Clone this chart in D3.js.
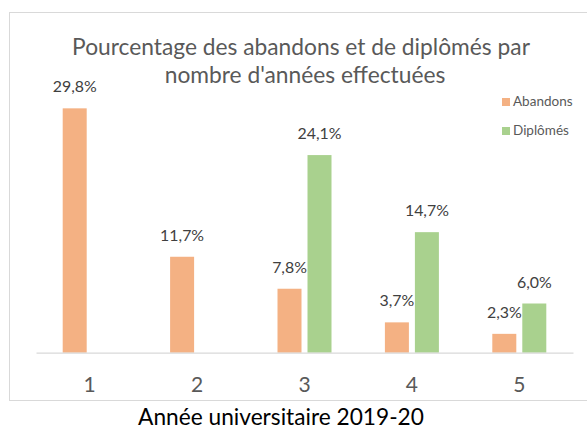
<!DOCTYPE html>
<html>
<head>
<meta charset="utf-8">
<script src="https://cdn.jsdelivr.net/npm/d3@7"></script>
<style>
  body { margin: 0; background: #fff; }
  text { font-family: Lato, "Open Sans", sans-serif; }
</style>
</head>
<body>
<div id="chart"></div>
<script>
// donnees
const annees = ["1", "2", "3", "4", "5"];
const series = ["Abandons", "Diplômés"];
const abandons = [29.8, 11.7, 7.8, 3.7, 2.3];
const diplomes = [null, null, 24.1, 14.7, 6.0];
const titre = ["Pourcentage des abandons et de diplômés par", "nombre d'années effectuées"];
const sousTitre = "Année universitaire 2019-20";

const couleurs = { "Abandons": "#F4B183", "Diplômés": "#A9D18E" };

// ajuste la taille de police pour qu'un texte fasse une largeur donnee
function fitSize(sel, largeur) {
    let base = 20;
    sel.style("font-size", base + "px");
    let w = sel.node().getComputedTextLength();
    let taille = base * largeur / w;
    sel.style("font-size", taille + "px");
    return taille;
}

function CreateChart()
{
    let svg = d3.select("#chart").append("svg")
        .attr("width", 587)
        .attr("height", 430);

    svg.append("rect")
        .attr("width", 587).attr("height", 430)
        .attr("fill", "#fff");

    // cadre du graphique
    svg.append("rect")
        .attr("x", 9.5).attr("y", 12.5)
        .attr("width", 600).attr("height", 388)
        .attr("fill", "none")
        .attr("stroke", "#d9d9d9")
        .attr("stroke-width", 1);

    // titre sur deux lignes
    let t1 = svg.append("text")
        .attr("x", 301).attr("y", 55)
        .attr("text-anchor", "middle")
        .attr("fill", "#595959")
        .text(titre[0]);
    let tailleTitre = fitSize(t1, 458);
    svg.append("text")
        .attr("x", 305).attr("y", 83)
        .attr("text-anchor", "middle")
        .attr("fill", "#595959")
        .style("font-size", tailleTitre + "px")
        .text(titre[1]);

    //scale de répartition sur l'axe x
    let xScale = d3.scaleBand()
        .domain(annees)
        .range([36, 573]);
    let xInner = d3.scaleBand()
        .domain(series)
        .range([-27, 27])
        .paddingInner(0.2);
    let yScale = d3.scaleLinear()
        .domain([0, 30])
        .range([352.7, 106.7]);

    let rows = [];
    annees.forEach((a, i) => {
        rows.push({ annee: a, serie: "Abandons", valeur: abandons[i] });
        rows.push({ annee: a, serie: "Diplômés", valeur: diplomes[i] });
    });
    rows = rows.filter(d => d.valeur != null);

    let cx = d => xScale(d.annee) + xScale.bandwidth() / 2 + xInner(d.serie);

    svg.selectAll(".bar")
        .data(rows)
        .enter()
        .append("rect")
        .attr("class", "bar")
        .attr("x", cx)
        .attr("y", d => yScale(d.valeur))
        .attr("width", xInner.bandwidth())
        .attr("height", d => yScale(0) - yScale(d.valeur))
        .attr("fill", d => couleurs[d.serie]);

    // etiquettes de valeurs
    let fmt = v => v.toFixed(1).replace(".", ",") + "%";
    let lab = svg.selectAll(".lab")
        .data(rows)
        .enter()
        .append("text")
        .attr("class", "lab")
        .attr("x", d => cx(d) + xInner.bandwidth() / 2)
        .attr("y", d => yScale(d.valeur) - 16)
        .attr("text-anchor", "middle")
        .attr("fill", "#404040")
        .text(d => fmt(d.valeur));
    let tailleLab = fitSize(d3.select(lab.nodes()[0]), 44);
    lab.style("font-size", tailleLab + "px");

    // axe x
    let axe = svg.append("g")
        .attr("transform", "translate(0," + yScale(0) + ")")
        .call(d3.axisBottom(xScale).tickSize(0).tickPadding(24));
    axe.select(".domain").attr("stroke", "#d9d9d9").attr("stroke-width", 1.3);
    axe.selectAll(".tick text")
        .attr("fill", "#595959")
        .style("font-size", "21px")
        .style("font-family", "Lato, sans-serif");

    // legende
    let leg = svg.selectAll(".leg")
        .data(series)
        .enter()
        .append("g")
        .attr("class", "leg")
        .attr("transform", (d, i) => "translate(502," + (98 + i * 29) + ")");
    leg.append("rect")
        .attr("width", 8).attr("height", 8)
        .attr("fill", d => couleurs[d]);
    leg.append("text")
        .attr("x", 11).attr("y", 8)
        .attr("fill", "#595959")
        .style("font-size", "13.5px")
        .text(d => d);

    // sous-titre hors du cadre
    let st = svg.append("text")
        .attr("x", 281).attr("y", 425)
        .attr("text-anchor", "middle")
        .attr("fill", "#000")
        .text(sousTitre);
    fitSize(st, 286);
}

CreateChart();
</script>
</body>
</html>
